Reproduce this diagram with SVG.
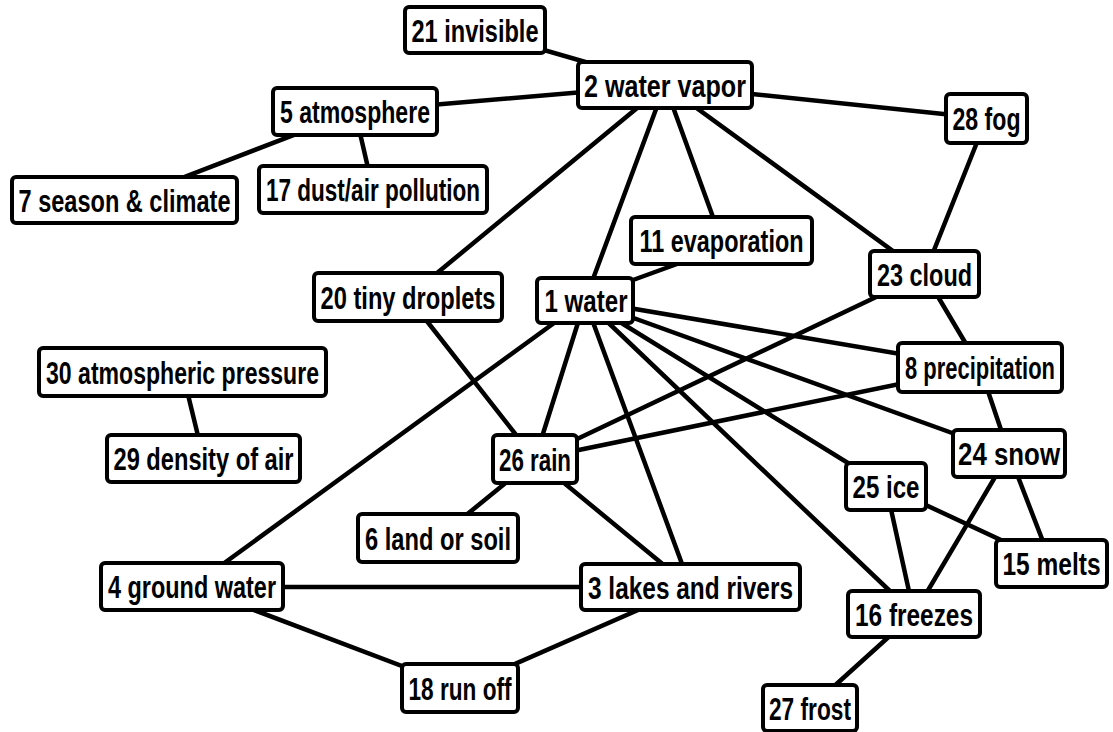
<svg xmlns="http://www.w3.org/2000/svg" width="1113" height="732" viewBox="0 0 1113 732">
  <style>
    .edge { stroke: #000; stroke-width: 4.5; stroke-linecap: round; fill: none; }
    .box { fill: #fff; stroke: #000; stroke-width: 4; }
    .lbl { font-family: "Liberation Sans", Arial, sans-serif; font-weight: bold; font-size: 32px; fill: #000; text-anchor: middle; }
  </style>
  <rect width="1113" height="732" fill="#fff"/>

  <!-- connectors, drawn centre to centre; the boxes cover the ends -->
  <g id="connectors" class="edge">
    <line x1="475" y1="30" x2="665" y2="85"/>
    <line x1="355" y1="111.5" x2="665" y2="85"/>
    <line x1="355" y1="111.5" x2="124.5" y2="200"/>
    <line x1="355" y1="111.5" x2="373" y2="189.5"/>
    <line x1="665" y1="85" x2="986.5" y2="118.5"/>
    <line x1="665" y1="85" x2="408" y2="297"/>
    <line x1="665" y1="85" x2="585" y2="300.5"/>
    <line x1="665" y1="85" x2="721.5" y2="240.5"/>
    <line x1="665" y1="85" x2="924.5" y2="274"/>
    <line x1="986.5" y1="118.5" x2="924.5" y2="274"/>
    <line x1="677" y1="264" x2="633" y2="280"/>
    <line x1="924.5" y1="274" x2="535" y2="459"/>
    <line x1="924.5" y1="274" x2="980" y2="367.5"/>
    <line x1="585" y1="300.5" x2="980" y2="367.5"/>
    <line x1="585" y1="300.5" x2="1009" y2="453.5"/>
    <line x1="585" y1="300.5" x2="886" y2="486.5"/>
    <line x1="585" y1="300.5" x2="914" y2="614"/>
    <line x1="585" y1="300.5" x2="690.5" y2="587"/>
    <line x1="585" y1="300.5" x2="535" y2="459"/>
    <line x1="585" y1="300.5" x2="192" y2="586.5"/>
    <line x1="408" y1="297" x2="535" y2="459"/>
    <line x1="980" y1="367.5" x2="535" y2="459"/>
    <line x1="980" y1="367.5" x2="1009" y2="453.5"/>
    <line x1="535" y1="459" x2="438" y2="538"/>
    <line x1="535" y1="459" x2="690.5" y2="587"/>
    <line x1="192" y1="587" x2="690.5" y2="587"/>
    <line x1="192" y1="586.5" x2="460" y2="688"/>
    <line x1="690.5" y1="587" x2="460" y2="688"/>
    <line x1="182.5" y1="372" x2="203.5" y2="458.5"/>
    <line x1="1009" y1="453.5" x2="914" y2="614"/>
    <line x1="1009" y1="453.5" x2="1051.5" y2="563.5"/>
    <line x1="886" y1="486.5" x2="1051.5" y2="563.5"/>
    <line x1="886" y1="486.5" x2="914" y2="614"/>
    <line x1="914" y1="614" x2="810" y2="708"/>
  </g>

  <g id="n21"><rect class="box" x="405" y="7" width="140" height="46" rx="4"/><text class="lbl" x="475" y="42" textLength="127" lengthAdjust="spacingAndGlyphs">21 invisible</text></g>
  <g id="n2"><rect class="box" x="578" y="62" width="174" height="46" rx="4"/><text class="lbl" x="665" y="97" textLength="162" lengthAdjust="spacingAndGlyphs">2 water vapor</text></g>
  <g id="n5"><rect class="box" x="273" y="88" width="164" height="47" rx="4"/><text class="lbl" x="355" y="123" textLength="150" lengthAdjust="spacingAndGlyphs">5 atmosphere</text></g>
  <g id="n28"><rect class="box" x="946" y="94" width="81" height="49" rx="4"/><text class="lbl" x="986.5" y="130" textLength="68" lengthAdjust="spacingAndGlyphs">28 fog</text></g>
  <g id="n7"><rect class="box" x="12" y="177" width="225" height="46" rx="4"/><text class="lbl" x="124.5" y="212" textLength="212" lengthAdjust="spacingAndGlyphs">7 season &amp; climate</text></g>
  <g id="n17"><rect class="box" x="259" y="166" width="228" height="47" rx="4"/><text class="lbl" x="373" y="201" textLength="214" lengthAdjust="spacingAndGlyphs">17 dust/air pollution</text></g>
  <g id="n11"><rect class="box" x="631" y="217" width="181" height="47" rx="4"/><text class="lbl" x="721.5" y="252" textLength="164" lengthAdjust="spacingAndGlyphs">11 evaporation</text></g>
  <g id="n23"><rect class="box" x="870" y="251" width="109" height="46" rx="4"/><text class="lbl" x="924.5" y="286" textLength="95" lengthAdjust="spacingAndGlyphs">23 cloud</text></g>
  <g id="n20"><rect class="box" x="314" y="273" width="188" height="48" rx="4"/><text class="lbl" x="408" y="309" textLength="175" lengthAdjust="spacingAndGlyphs">20 tiny droplets</text></g>
  <g id="n1"><rect class="box" x="537" y="278" width="96" height="45" rx="4"/><text class="lbl" x="586" y="312" textLength="83" lengthAdjust="spacingAndGlyphs">1 water</text></g>
  <g id="n30"><rect class="box" x="39" y="348" width="287" height="48" rx="4"/><text class="lbl" x="182.5" y="384" textLength="273" lengthAdjust="spacingAndGlyphs">30 atmospheric pressure</text></g>
  <g id="n8"><rect class="box" x="898" y="343" width="164" height="49" rx="4"/><text class="lbl" x="980" y="379" textLength="150" lengthAdjust="spacingAndGlyphs">8 precipitation</text></g>
  <g id="n24"><rect class="box" x="953" y="430" width="112" height="47" rx="4"/><text class="lbl" x="1009" y="465" textLength="102" lengthAdjust="spacingAndGlyphs">24 snow</text></g>
  <g id="n29"><rect class="box" x="107" y="435" width="193" height="47" rx="4"/><text class="lbl" x="203.5" y="470" textLength="180" lengthAdjust="spacingAndGlyphs">29 density of air</text></g>
  <g id="n26"><rect class="box" x="493" y="435" width="84" height="48" rx="4"/><text class="lbl" x="535" y="471" textLength="72" lengthAdjust="spacingAndGlyphs">26 rain</text></g>
  <g id="n25"><rect class="box" x="846" y="463" width="80" height="47" rx="4"/><text class="lbl" x="886" y="498" textLength="67" lengthAdjust="spacingAndGlyphs">25 ice</text></g>
  <g id="n6"><rect class="box" x="358" y="514" width="160" height="48" rx="4"/><text class="lbl" x="438" y="550" textLength="146" lengthAdjust="spacingAndGlyphs">6 land or soil</text></g>
  <g id="n4"><rect class="box" x="101" y="563" width="182" height="47" rx="4"/><text class="lbl" x="192" y="598" textLength="168" lengthAdjust="spacingAndGlyphs">4 ground water</text></g>
  <g id="n3"><rect class="box" x="581" y="564" width="219" height="46" rx="4"/><text class="lbl" x="690.5" y="599" textLength="205" lengthAdjust="spacingAndGlyphs">3 lakes and rivers</text></g>
  <g id="n15"><rect class="box" x="996" y="540" width="111" height="47" rx="4"/><text class="lbl" x="1051.5" y="575" textLength="98" lengthAdjust="spacingAndGlyphs">15 melts</text></g>
  <g id="n16"><rect class="box" x="848" y="591" width="132" height="46" rx="4"/><text class="lbl" x="914" y="626" textLength="118" lengthAdjust="spacingAndGlyphs">16 freezes</text></g>
  <g id="n18"><rect class="box" x="402" y="664" width="116" height="48" rx="4"/><text class="lbl" x="460" y="700" textLength="103" lengthAdjust="spacingAndGlyphs">18 run off</text></g>
  <g id="n27"><rect class="box" x="763" y="685" width="94" height="46" rx="4"/><text class="lbl" x="810" y="720" textLength="82" lengthAdjust="spacingAndGlyphs">27 frost</text></g>
</svg>
